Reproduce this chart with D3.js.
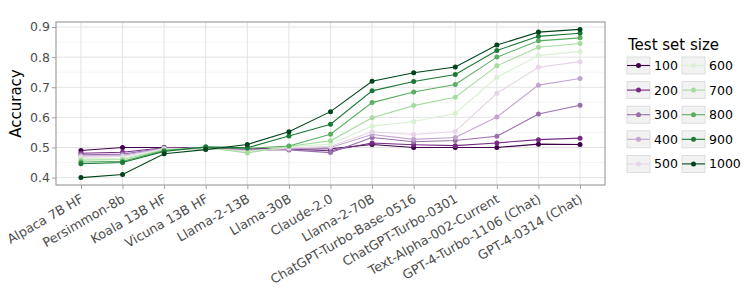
<!DOCTYPE html>
<html>
<head>
<meta charset="utf-8">
<script src="https://cdn.jsdelivr.net/npm/d3@7"></script>
<style>
  body { margin: 0; background: #fff; }
  svg { font-family: "DejaVu Sans", sans-serif; }
</style>
</head>
<body>
<svg id="chart"></svg>
<script>
// modelos no eixo x
const models = ["Alpaca 7B HF", "Persimmon-8b", "Koala 13B HF", "Vicuna 13B HF", "Llama-2-13B",
  "Llama-30B", "Claude-2.0", "Llama-2-70B", "ChatGPT-Turbo-Base-0516", "ChatGPT-Turbo-0301",
  "Text-Alpha-002-Current", "GPT-4-Turbo-1106 (Chat)", "GPT-4-0314 (Chat)"];

// tamanhos do conjunto de teste (séries)
const sizes = [100, 200, 300, 400, 500, 600, 700, 800, 900, 1000];

// acurácia por tamanho, na ordem dos modelos
const acc100  = [0.490, 0.500, 0.500, 0.497, 0.496, 0.495, 0.496, 0.510, 0.500, 0.500, 0.500, 0.511, 0.510];
const acc200  = [0.481, 0.484, 0.499, 0.497, 0.495, 0.494, 0.489, 0.515, 0.509, 0.506, 0.515, 0.526, 0.531];
const acc300  = [0.476, 0.478, 0.498, 0.495, 0.492, 0.492, 0.483, 0.533, 0.519, 0.523, 0.537, 0.611, 0.640];
const acc400  = [0.472, 0.473, 0.497, 0.496, 0.490, 0.495, 0.500, 0.543, 0.527, 0.533, 0.601, 0.707, 0.729];
const acc500  = [0.468, 0.470, 0.496, 0.497, 0.488, 0.498, 0.504, 0.552, 0.543, 0.553, 0.680, 0.766, 0.785];
const acc600  = [0.462, 0.464, 0.494, 0.498, 0.485, 0.502, 0.511, 0.571, 0.586, 0.613, 0.733, 0.805, 0.819];
const acc700  = [0.458, 0.460, 0.492, 0.500, 0.482, 0.504, 0.522, 0.599, 0.639, 0.667, 0.771, 0.833, 0.845];
const acc800  = [0.452, 0.454, 0.490, 0.500, 0.497, 0.505, 0.544, 0.649, 0.684, 0.709, 0.800, 0.854, 0.864];
const acc900  = [0.446, 0.450, 0.487, 0.502, 0.499, 0.538, 0.577, 0.688, 0.719, 0.742, 0.822, 0.869, 0.879];
const acc1000 = [0.400, 0.410, 0.479, 0.493, 0.510, 0.552, 0.619, 0.720, 0.748, 0.767, 0.840, 0.883, 0.892];

const yTicks = [0.4, 0.5, 0.6, 0.7, 0.8, 0.9];

const series = [acc100, acc200, acc300, acc400, acc500, acc600, acc700, acc800, acc900, acc1000]
  .map((vals, i) => ({ size: sizes[i], values: vals }));

const width = 747, height = 299;
const margin = { top: 22, right: 142, bottom: 114, left: 56 };

const svg = d3.select("#chart")
  .attr("width", width)
  .attr("height", height)
  .attr("viewBox", "0 0 " + width + " " + height);

// escala discreta com expansão de 0.6 unidade de cada lado
const x = d3.scalePoint()
  .domain(models)
  .range([margin.left, width - margin.right])
  .padding(0.6);

const y = d3.scaleLinear()
  .domain([0.3754, 0.9166])
  .range([height - margin.bottom, margin.top]);

const cor = d3.scaleOrdinal()
  .domain(sizes)
  .range(d3.schemePRGn[10]);

const plotL = margin.left, plotR = width - margin.right;
const plotT = margin.top, plotB = height - margin.bottom;

// grade
const grade = svg.append("g");
const minor = d3.range(0.35, 0.96, 0.1).filter(v => v > y.domain()[0] && v < y.domain()[1]);
grade.selectAll(".minor").data(minor).enter().append("line")
  .attr("x1", plotL).attr("x2", plotR)
  .attr("y1", d => y(d)).attr("y2", d => y(d))
  .attr("stroke", "#efefef").attr("stroke-width", 0.6);
grade.selectAll(".major").data(yTicks).enter().append("line")
  .attr("x1", plotL).attr("x2", plotR)
  .attr("y1", d => y(d)).attr("y2", d => y(d))
  .attr("stroke", "#e3e3e3").attr("stroke-width", 1);
grade.selectAll(".vert").data(models).enter().append("line")
  .attr("x1", d => x(d)).attr("x2", d => x(d))
  .attr("y1", plotT).attr("y2", plotB)
  .attr("stroke", "#e3e3e3").attr("stroke-width", 1);

// linhas e pontos
const linha = d3.line()
  .x((d, i) => x(models[i]))
  .y(d => y(d));

const grupos = svg.append("g").selectAll("g")
  .data(series)
  .enter().append("g");

grupos.append("path")
  .attr("d", d => linha(d.values))
  .attr("fill", "none")
  .attr("stroke", d => cor(d.size))
  .attr("stroke-width", 1.1);

grupos.selectAll("circle")
  .data(d => d.values.map((v, i) => ({ v: v, m: models[i], size: d.size })))
  .enter().append("circle")
  .attr("cx", d => x(d.m))
  .attr("cy", d => y(d.v))
  .attr("r", 2.5)
  .attr("fill", d => cor(d.size));

// borda do painel
svg.append("rect")
  .attr("x", plotL).attr("y", plotT)
  .attr("width", plotR - plotL).attr("height", plotB - plotT)
  .attr("fill", "none")
  .attr("stroke", "#a0a0a0")
  .attr("stroke-width", 1.2);

// eixo y
const eixoY = svg.append("g")
  .attr("transform", "translate(" + plotL + ",0)")
  .call(d3.axisLeft(y).tickValues(yTicks).tickFormat(d3.format(".1f")).tickSize(4))
  .attr("font-family", null);
eixoY.select(".domain").remove();
eixoY.selectAll(".tick line").attr("stroke", "#a0a0a0");
eixoY.selectAll(".tick text")
  .attr("fill", "#4d4d4d")
  .style("font-size", "12.5px")
  .attr("x", -6);

// eixo x
const eixoX = svg.append("g")
  .attr("transform", "translate(0," + plotB + ")")
  .call(d3.axisBottom(x).tickSize(4).tickSizeOuter(0))
  .attr("font-family", null);
eixoX.select(".domain").remove();
eixoX.selectAll(".tick line").attr("stroke", "#a0a0a0");
eixoX.selectAll(".tick text")
  .attr("fill", "#4d4d4d")
  .style("font-size", "12.8px")
  .attr("text-anchor", "end")
  .attr("y", 0)
  .attr("dy", "0.76em")
  .attr("transform", "translate(-2,8) rotate(-30)");

// título do eixo y
svg.append("text")
  .attr("transform", "translate(21," + ((plotT + plotB) / 2) + ") rotate(-90)")
  .attr("text-anchor", "middle")
  .style("font-size", "15px")
  .attr("fill", "#000")
  .text("Accuracy");

// legenda
const leg = svg.append("g");
leg.append("text")
  .attr("x", 628).attr("y", 50)
  .style("font-size", "15px")
  .text("Test set size");

const itens = leg.selectAll(".item")
  .data(sizes)
  .enter().append("g")
  .attr("transform", (d, i) => "translate(" + (627 + Math.floor(i / 5) * 55) + "," + (57 + (i % 5) * 24.6) + ")");

itens.append("rect")
  .attr("width", 23).attr("height", 17)
  .attr("fill", "#f2f2f2")
  .attr("stroke", "#d6d6d6")
  .attr("stroke-width", 0.8);
itens.append("line")
  .attr("x1", 0).attr("x2", 23)
  .attr("y1", 8.5).attr("y2", 8.5)
  .attr("stroke", d => cor(d))
  .attr("stroke-width", 1.1);
itens.append("circle")
  .attr("cx", 11.5).attr("cy", 8.5).attr("r", 2.5)
  .attr("fill", d => cor(d));
itens.append("text")
  .attr("x", 27).attr("y", 8.5)
  .attr("dy", "0.36em")
  .style("font-size", "12.5px")
  .text(d => d);
</script>
</body>
</html>
